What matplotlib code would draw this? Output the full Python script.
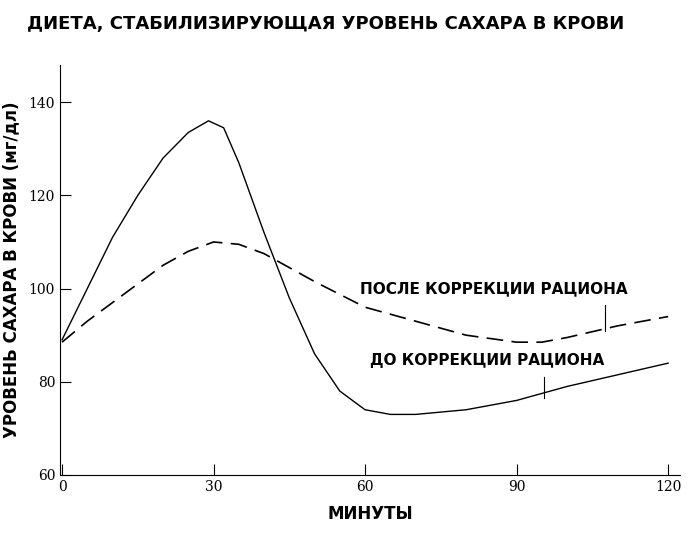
import matplotlib.pyplot as plt

# minutes and blood sugar (mg/dl)
before_x = [0, 5, 10, 15, 20, 25, 29, 32, 35, 40, 45, 50, 55, 60, 65, 70, 80, 90, 100, 110, 120]
before_y = [89, 100, 111, 120, 128, 133.5, 136, 134.5, 127, 112, 98, 86, 78, 74, 73, 73, 74, 76, 79, 81.5, 84]
after_x = [0, 5, 10, 15, 20, 25, 30, 35, 40, 50, 60, 70, 80, 90, 95, 100, 110, 120]
after_y = [88.5, 93, 97, 101, 105, 108, 110, 109.5, 107.5, 101.5, 96, 93, 90, 88.5, 88.5, 89.5, 92, 94]
x_ticks = [0, 30, 60, 90, 120]
y_ticks = [60, 80, 100, 120, 140]

fig = plt.figure(figsize=(6.93, 5.34), dpi=100)
ax = fig.add_axes([0.0866, 0.1105, 0.895, 0.768])
ax.plot(before_x, before_y, color='black', lw=1)
ax.plot(after_x, after_y, color='black', lw=1.2, dashes=(10, 5))

ax.set_xlim(-0.4, 122.4)
ax.set_ylim(60, 148)
ax.spines['top'].set_visible(False)
ax.spines['right'].set_visible(False)
ax.set_xticks(x_ticks)
ax.set_yticks(y_ticks)
ax.tick_params(direction='in', length=8, labelsize=10)
for lab in ax.get_xticklabels() + ax.get_yticklabels():
    lab.set_family('DejaVu Serif')

ax.text(59, 99, 'ПОСЛЕ КОРРЕКЦИИ РАЦИОНА', fontsize=11, fontweight='bold')
ax.plot([107.5, 107.5], [96.5, 90.8], color='black', lw=0.8)
ax.text(61, 83.5, 'ДО КОРРЕКЦИИ РАЦИОНА', fontsize=11, fontweight='bold')
ax.plot([95.5, 95.5], [81, 76.5], color='black', lw=0.8)

ax.set_xlabel('МИНУТЫ', fontsize=12, fontweight='bold', labelpad=8)
ax.set_ylabel('УРОВЕНЬ САХАРА В КРОВИ (мг/дл)', fontsize=12, fontweight='bold', labelpad=6)
fig.text(0.47, 0.955, 'ДИЕТА, СТАБИЛИЗИРУЮЩАЯ УРОВЕНЬ САХАРА В КРОВИ',
         ha='center', va='center', fontsize=13, fontweight='bold')

fig.savefig('out.png')
